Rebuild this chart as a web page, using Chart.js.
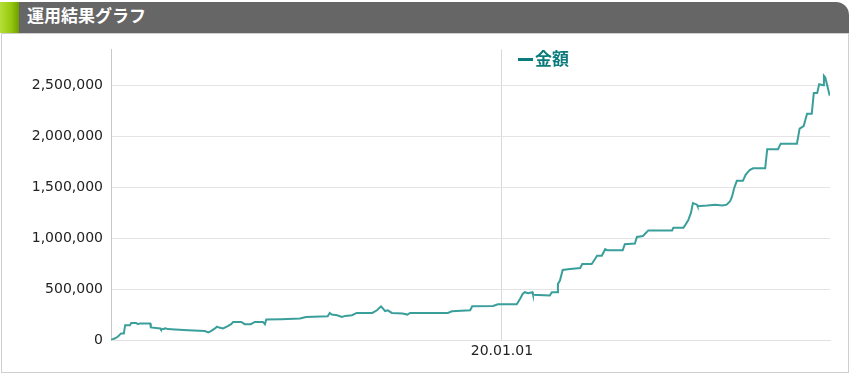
<!DOCTYPE html>
<html>
<head>
<meta charset="utf-8">
<script src="https://cdn.jsdelivr.net/npm/chart.js@4/dist/chart.umd.min.js"></script>
<style>
  body { margin: 0; background: #fff; width: 852px; height: 373px; position: relative; overflow: hidden; }
  .head {
    position: absolute; left: 0; top: 2px; width: 849px; height: 31px;
    background: #666; border-top-right-radius: 13px;
  }
  .head .accent {
    position: absolute; left: 0; top: 0; width: 19px; height: 31px;
    background: linear-gradient(to right, #b6de3a 0%, #98cb10 55%, #6f9d00 100%);
  }
  .head .title {
    position: absolute; left: 27px; top: 0; line-height: 31px;
    color: #fff; font: bold 17px "Noto Sans CJK JP", sans-serif;
  }
  .panel {
    position: absolute; left: 1px; top: 33px; width: 846px; height: 338px;
    border: 1px solid #cfcfcf;
  }
  .legend {
    position: absolute; left: 518px; top: 45px; line-height: 20px;
    color: #0b7b7b; font: bold 17px "Noto Sans CJK JP", sans-serif;
  }
  .legend .mark {
    display: inline-block; width: 15px; height: 3px; background: #0b7b7b;
    vertical-align: middle; margin-right: 2px; position: relative; top: -1px;
  }
  .wrap { position: absolute; left: 0; top: 33px; width: 852px; height: 340px; }
</style>
</head>
<body>
<div class="head"><div class="accent"></div><div class="title">運用結果グラフ</div></div>
<div class="panel"></div>
<div class="wrap"><canvas id="chart"></canvas></div>
<div class="legend"><span class="mark"></span>金額</div>
<script>
// day offsets from the start date, and the amount on that day
const startDate = '2018-06-01';
const days = [
  0, 6, 10, 15, 19, 21, 28, 30, 37, 40, 43, 58, 59, 73, 74, 81, 84, 95, 114, 139,
  144, 148, 154, 157, 160, 166, 173, 178, 181, 193, 198, 207, 213, 225, 228, 230, 252, 280, 289, 321,
  324, 327, 335, 342, 347, 357, 364, 387, 394, 400, 403, 406, 410, 416, 432, 439, 443, 499, 505, 532,
  535, 566, 573, 601, 606, 610, 613, 618, 624, 625, 650, 653, 661, 662, 665, 669, 680, 695, 698, 712,
  717, 720, 727, 732, 735, 758, 761, 776, 779, 788, 791, 796, 831, 833, 848, 855, 859, 862, 868, 869,
  883, 895, 906, 912, 917, 920, 923, 927, 936, 940, 946, 951, 969, 972, 988, 992, 1016, 1020, 1026, 1031,
  1038, 1041, 1046, 1049, 1055, 1056, 1058, 1061, 1064, 1065
];
const amounts = [
  0, 17000, 32000, 65000, 65000, 146000, 146000, 168000, 168000, 156000,
  163000, 163000, 124000, 114000, 104000, 114000, 107000, 104000, 97000, 88000,
  75000, 88000, 114000, 131000, 122000, 114000, 136000, 156000, 178000, 178000,
  156000, 156000, 178000, 178000, 156000, 202000, 205000, 211000, 227000, 234000,
  266000, 250000, 244000, 227000, 237000, 244000, 266000, 266000, 292000, 331000,
  309000, 285000, 292000, 266000, 260000, 250000, 266000, 266000, 282000, 292000,
  331000, 334000, 351000, 351000, 406000, 455000, 470000, 461000, 470000, 445000,
  438000, 470000, 470000, 552000, 584000, 689000, 698000, 708000, 747000, 747000,
  796000, 828000, 828000, 893000, 883000, 883000, 942000, 948000, 1013000, 1023000,
  1045000, 1078000, 1078000, 1104000, 1104000, 1176000, 1250000, 1347000, 1331000, 1315000,
  1322000, 1331000, 1322000, 1331000, 1364000, 1412000, 1493000, 1565000, 1565000, 1624000,
  1672000, 1688000, 1688000, 1877000, 1877000, 1931000, 1931000, 2078000, 2104000, 2224000,
  2224000, 2428000, 2428000, 2516000, 2506000, 2598000, 2581000, 2500000, 2418000, 2428000
];
const xTicks = ['20.01.01'];
const yTicks = [0, 500000, 1000000, 1500000, 2000000, 2500000];

const base = Date.parse(startDate + 'T00:00:00Z');
const DAY = 86400000;
function dayOf(label) {
  const p = label.split('.');
  return Math.round((Date.UTC(2000 + +p[0], +p[1] - 1, +p[2]) - base) / DAY);
}
function fmtDay(d) {
  const t = new Date(base + d * DAY);
  const pad = n => String(n).padStart(2, '0');
  return pad(t.getUTCFullYear() % 100) + '.' + pad(t.getUTCMonth() + 1) + '.' + pad(t.getUTCDate());
}

const tickFont = { family: 'DejaVu Sans', size: 14 };

new Chart(document.getElementById('chart'), {
  type: 'line',
  data: {
    datasets: [{
      label: '金額',
      data: days.map((d, i) => ({ x: d, y: amounts[i] })),
      borderColor: '#3a9f9b',
      borderWidth: 2,
      pointRadius: 0,
      tension: 0,
      fill: false
    }]
  },
  options: {
    responsive: true,
    maintainAspectRatio: false,
    animation: false,
    layout: { padding: { top: 14, right: 22, left: 0, bottom: 0 } },
    plugins: { legend: { display: false }, tooltip: { enabled: false } },
    scales: {
      x: {
        type: 'linear',
        min: 0,
        max: days[days.length - 1],
        afterBuildTicks: s => { s.ticks = xTicks.map(t => ({ value: dayOf(t) })); },
        afterFit: s => { s.height = 33; },
        ticks: { callback: v => fmtDay(v), font: tickFont, color: '#222', padding: 3, maxRotation: 0, autoSkip: false },
        grid: { color: '#d8d8d8', drawTicks: false },
        border: { color: '#e2e2e2' }
      },
      y: {
        min: 0,
        max: Math.max(...amounts) * 1.1,
        afterBuildTicks: s => { s.ticks = yTicks.map(v => ({ value: v })); },
        afterFit: s => { s.width = 111; },
        ticks: {
          callback: v => v.toLocaleString('en-US'),
          font: tickFont, color: '#222', padding: 8, autoSkip: false
        },
        grid: { color: '#e4e4e4', drawTicks: false },
        border: { color: '#c8c8c8' }
      }
    }
  }
});
</script>
</body>
</html>
